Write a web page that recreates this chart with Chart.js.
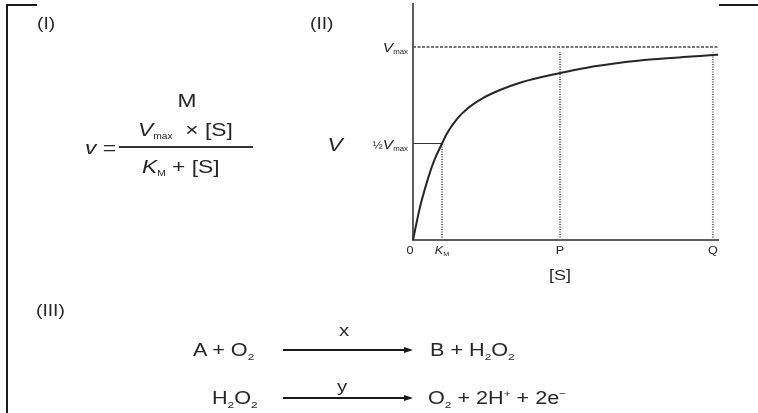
<!DOCTYPE html>
<html>
<head>
<meta charset="utf-8">
<script src="https://cdn.jsdelivr.net/npm/chart.js@4.4.0/dist/chart.umd.min.js"></script>
<style>
  html, body { margin: 0; padding: 0; background: #fff; }
  #wrap { position: relative; width: 758px; height: 413px; overflow: hidden;
          font-family: "Liberation Sans", Arial, sans-serif; color: #262626; }
  #chart { position: absolute; left: 0; top: 0; }
  .t { position: absolute; white-space: nowrap; line-height: 1;
       transform: scaleX(1.2); transform-origin: 0 50%; }
  .c { transform: translateX(-50%) scaleX(1.2); transform-origin: 50% 50%; }
  i { font-style: italic; }
  sub { font-size: 55%; vertical-align: -0.4em; line-height: 0; }
  sup { font-size: 55%; vertical-align: 0.7em; line-height: 0; }
  .ln { position: absolute; background: #1a1a1a; }
  .head { position: absolute; width: 0; height: 0; border-left: 9px solid #1a1a1a;
          border-top: 3.5px solid transparent; border-bottom: 3.5px solid transparent; }
</style>
</head>
<body>
<div id="wrap">
  <canvas id="chart" width="758" height="413"></canvas>

  <!-- frame corners -->
  <div class="ln" style="left:6px;top:4px;width:2px;height:409px"></div>
  <div class="ln" style="left:6px;top:4px;width:31px;height:2px"></div>
  <div class="ln" style="left:719px;top:4px;width:39px;height:2px"></div>

  <div class="t" style="left:37px;top:16px;font-size:16px">(I)</div>
  <div class="t" style="left:310px;top:16px;font-size:16px">(II)</div>

  <!-- formula -->
  <div class="t c" style="left:187px;top:91px;font-size:19px">M</div>
  <div class="t" style="left:85px;top:138px;font-size:19px"><i>v</i> =</div>
  <div class="ln" style="left:119px;top:146px;width:134px;height:1.5px;background:#333"></div>
  <div class="t" style="left:138px;top:120px;font-size:19px"><i>V</i><sub style="font-size:45%">max</sub> &nbsp;× [S]</div>
  <div class="t" style="left:142px;top:157px;font-size:19px"><i>K</i><sub style="font-size:45%">M</sub> + [S]</div>

  <!-- reactions -->
  <div class="t" style="left:36px;top:303px;font-size:16px">(III)</div>
  <div class="t" style="left:193px;top:341px;font-size:18px">A + O<sub>2</sub></div>
  <div class="ln" style="left:283px;top:349px;width:123px;height:1.5px"></div>
  <div class="head" style="left:404px;top:346.5px"></div>
  <div class="t c" style="left:344px;top:322px;font-size:17px">x</div>
  <div class="t" style="left:430px;top:341px;font-size:18px">B + H<sub>2</sub>O<sub>2</sub></div>

  <div class="t" style="left:212px;top:389px;font-size:18px">H<sub>2</sub>O<sub>2</sub></div>
  <div class="ln" style="left:283px;top:397px;width:123px;height:1.5px"></div>
  <div class="head" style="left:404px;top:394.5px"></div>
  <div class="t c" style="left:342px;top:378px;font-size:17px">y</div>
  <div class="t" style="left:428px;top:389px;font-size:18px">O<sub>2</sub> + 2H<sup>+</sup> + 2e<sup>−</sup></div>
</div>

<script>
// curve ([S] in units of K_M, v in units of Vmax)
const sVals = [0, 0.24, 0.48, 0.7, 1.0, 1.17, 1.52, 1.86, 2.41, 3.0, 3.69, 5.07, 6.0, 7.14, 8.28, 9.45, 10.34, 10.52];
const vVals = [0, 0.17, 0.30, 0.40, 0.5, 0.552, 0.628, 0.679, 0.735, 0.777, 0.815, 0.865, 0.893, 0.918, 0.936, 0.949, 0.958, 0.96];

const sMax = 10.55;
const vAxisMax = 1.228;
const vMax = 1;
const halfV = 0.5;
const kmS = 1;
const pS = 5.07;
const qS = 10.34;
const guideTop = 0.974;

const sTicks = [0, kmS, pS, qS];
const sTickLabels = [["0", ""], ["K", "M"], ["P", ""], ["Q", ""]];
const vTicks = [vMax, halfV];
const vTickLabels = [["", "V", "max"], ["½", "V", "max"]];

const FONT = '"Liberation Sans", Arial, sans-serif';
const SX = 1.2;

function drawParts(ctx, parts, x, y, align) {
    ctx.save();
    let w = 0;
    parts.forEach(p => {
        ctx.font = (p.italic ? "italic " : "") + p.size + "px " + FONT;
        p.w = ctx.measureText(p.text).width;
        w += p.w;
    });
    let start = x;
    if (align === "right") start = x - w * SX;
    if (align === "center") start = x - (w * SX) / 2;
    ctx.translate(start, y);
    ctx.scale(SX, 1);
    ctx.fillStyle = "#262626";
    ctx.textBaseline = "alphabetic";
    let cx = 0;
    parts.forEach(p => {
        ctx.font = (p.italic ? "italic " : "") + p.size + "px " + FONT;
        ctx.fillText(p.text, cx, p.dy || 0);
        cx += p.w;
    });
    ctx.restore();
}

const axesAndLabels = {
    id: "axesAndLabels",
    beforeDatasetsDraw(chart) {
        const { ctx, scales: { x, y } } = chart;
        const x0 = x.getPixelForValue(0);
        const y0 = y.getPixelForValue(0);
        ctx.save();
        ctx.strokeStyle = "#5e5e5e";
        ctx.lineWidth = 2;
        ctx.beginPath();
        ctx.moveTo(x0, y.getPixelForValue(vAxisMax));
        ctx.lineTo(x0, y0);
        ctx.lineTo(x.getPixelForValue(sMax), y0);
        ctx.stroke();
        ctx.restore();
    },
    afterDatasetsDraw(chart) {
        const { ctx, scales: { x, y } } = chart;
        const x0 = x.getPixelForValue(0);
        const y0 = y.getPixelForValue(0);

        sTicks.forEach((v, i) => {
            const [main, sub] = sTickLabels[i];
            const parts = [{ text: main, size: 10.5, italic: !!sub }];
            if (sub) parts.push({ text: sub, size: 6, dy: 2 });
            drawParts(ctx, parts, x.getPixelForValue(v) - (v === 0 ? 3 : 0), y0 + 14, "center");
        });

        vTicks.forEach((v, i) => {
            const [pre, main, sub] = vTickLabels[i];
            const parts = [];
            if (pre) parts.push({ text: pre, size: 10 });
            parts.push({ text: main, size: 13, italic: true });
            parts.push({ text: sub, size: 6.5, dy: 2 });
            drawParts(ctx, parts, x0 - 5, y.getPixelForValue(v) + 5, "right");
        });

        drawParts(ctx, [{ text: "V", size: 19, italic: true }], 335, y.getPixelForValue(halfV) + 7, "center");
        drawParts(ctx, [{ text: "[S]", size: 15 }], 560, y0 + 40, "center");
    }
};

const pts = (xs, ys) => xs.map((v, i) => ({ x: v, y: ys[i] }));

const guide = { borderColor: "#666", borderWidth: 2, borderDash: [1, 1.5] };

new Chart(document.getElementById("chart"), {
    type: "line",
    data: {
        datasets: [
            {
                data: pts(sVals, vVals),
                borderColor: "#262626",
                borderWidth: 2,
                cubicInterpolationMode: "monotone"
            },
            {
                data: pts([0, sMax], [vMax, vMax]),
                borderColor: "#4a4a4a",
                borderWidth: 1.5,
                borderDash: [3, 1.5]
            },
            {
                data: pts([0, kmS], [halfV, halfV]),
                borderColor: "#333",
                borderWidth: 1
            },
            { data: pts([kmS, kmS], [0, halfV]), ...guide },
            { data: pts([pS, pS], [0, guideTop]), ...guide },
            { data: pts([qS, qS], [0, guideTop]), ...guide }
        ]
    },
    options: {
        responsive: false,
        animation: false,
        layout: { padding: { left: 413, right: 39, top: 3, bottom: 173 } },
        plugins: { legend: { display: false }, tooltip: { enabled: false } },
        elements: { point: { radius: 0 }, line: { fill: false } },
        datasets: { line: { clip: false } },
        scales: {
            x: { type: "linear", min: 0, max: sMax, display: false },
            y: { type: "linear", min: 0, max: vAxisMax, display: false }
        }
    },
    plugins: [axesAndLabels]
});
</script>
</body>
</html>
